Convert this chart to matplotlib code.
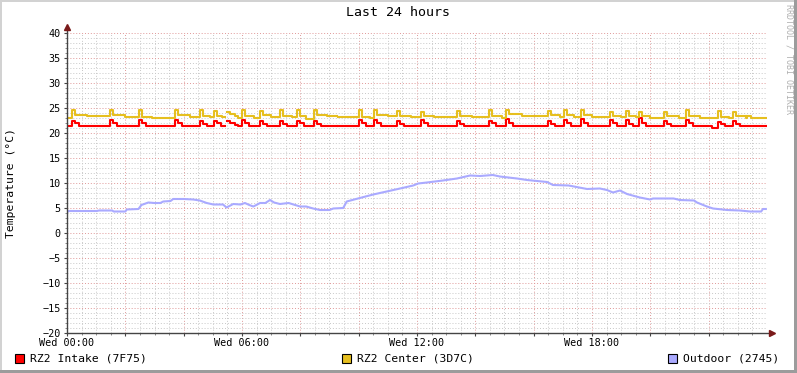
import matplotlib
matplotlib.use("Agg")
import matplotlib.pyplot as plt
from matplotlib.patches import Rectangle
import numpy as np

nan = float("nan")

# RZ2 Intake (7F75), hours since Wed 00:00 / deg C
intake_hours = [0.00,
                0.17, 0.27, 0.42, 1.47, 1.57, 1.72, 2.47, 2.57, 2.72,
                3.70, 3.80, 3.95, 4.56, 4.66, 4.81, 5.04, 5.14, 5.29,
                5.42, 5.48, 5.58, 5.75, 5.85,
                6.00, 6.10, 6.25, 6.62, 6.72, 6.87, 7.30, 7.40, 7.55,
                7.88, 7.98, 8.13, 8.47, 8.57, 8.72,
                9.25, 9.30,
                10.01, 10.11, 10.26, 10.52, 10.62, 10.77, 11.31, 11.41, 11.56,
                12.13, 12.23, 12.38, 13.37, 13.47, 13.62, 14.47, 14.57, 14.72,
                15.05, 15.15, 15.30, 16.49, 16.59, 16.74, 17.04, 17.14, 17.29,
                17.62, 17.72, 17.87, 18.62, 18.72, 18.87, 19.17, 19.27, 19.42,
                19.61, 19.71, 19.86, 20.47, 20.57, 20.72, 21.22, 21.32, 21.47,
                22.10,
                22.32, 22.42, 22.57, 22.83, 22.93, 23.08,
                24.00]
intake_temp = [21.4,
               22.5, 22.0, 21.5, 22.6, 22.0, 21.4, 22.6, 22.0, 21.4,
               22.6, 22.0, 21.4, 22.4, 21.9, 21.4, 22.5, 22.0, 21.4,
               nan, 22.4, 22.0, 21.6, 21.4,
               22.7, 22.0, 21.4, 22.4, 21.9, 21.4, 22.4, 21.9, 21.4,
               22.5, 22.0, 21.4, 22.4, 21.9, 21.4,
               nan, 21.4,
               22.7, 22.0, 21.4, 22.7, 22.0, 21.4, 22.5, 21.9, 21.4,
               22.6, 22.0, 21.4, 22.5, 21.9, 21.4, 22.5, 22.0, 21.4,
               22.9, 22.1, 21.5, 22.5, 21.9, 21.4, 22.6, 22.0, 21.4,
               22.9, 22.1, 21.5, 22.7, 22.0, 21.4, 22.6, 21.9, 21.4,
               23.0, 22.1, 21.5, 22.5, 21.9, 21.4, 22.7, 22.0, 21.4,
               21.0,
               22.3, 21.9, 21.4, 22.4, 21.9, 21.4,
               21.4]

# RZ2 Center (3D7C)
center_hours = [0.00,
                0.17, 0.27, 0.70, 1.47, 1.57, 2.00, 2.47, 2.57, 2.90,
                3.70, 3.80, 4.20, 4.56, 4.66, 4.90, 5.04, 5.14, 5.30,
                5.42, 5.48, 5.58, 5.75, 5.85,
                6.00, 6.10, 6.40, 6.62, 6.72, 7.00, 7.30, 7.40, 7.70,
                7.88, 7.98, 8.20, 8.47, 8.57, 8.90,
                9.25, 9.30,
                10.01, 10.11, 10.40, 10.52, 10.62, 11.00, 11.31, 11.41, 11.80,
                12.13, 12.23, 12.60, 13.37, 13.47, 13.90, 14.47, 14.57, 14.90,
                15.05, 15.15, 15.60, 16.49, 16.59, 16.90, 17.04, 17.14, 17.40,
                17.62, 17.72, 18.00, 18.62, 18.72, 19.00, 19.17, 19.27, 19.50,
                19.61, 19.71, 20.00, 20.47, 20.57, 21.00, 21.22, 21.32, 21.70,
                22.32, 22.42, 22.70, 22.83, 22.93, 23.30,
                23.28, 23.45,
                24.00]
center_temp = [23.1,
               24.6, 23.7, 23.4, 24.6, 23.6, 23.2, 24.6, 23.3, 23.0,
               24.6, 23.6, 23.3, 24.6, 23.5, 23.2, 24.5, 23.5, 23.2,
               nan, 24.3, 23.8, 23.4, 23.1,
               24.6, 23.5, 23.1, 24.5, 23.6, 23.2, 24.6, 23.5, 23.2,
               24.6, 23.5, 22.9, 24.7, 23.6, 23.4,
               nan, 23.3,
               24.6, 23.3, 23.1, 24.6, 23.6, 23.4, 24.5, 23.5, 23.3,
               24.3, 23.5, 23.3, 24.5, 23.5, 23.3, 24.7, 23.5, 23.1,
               24.6, 23.8, 23.4, 24.5, 23.6, 23.3, 24.6, 23.6, 23.3,
               24.6, 23.7, 23.3, 24.3, 23.5, 23.2, 24.5, 23.5, 23.2,
               24.3, 23.4, 23.0, 24.3, 23.5, 23.1, 24.6, 23.5, 23.1,
               24.5, 23.3, 23.0, 24.3, 23.4, 23.1,
               23.4, 23.1,
               23.1]

# Outdoor (2745)
outdoor_hours = [0.00, 0.05, 1.02, 1.10, 1.55, 1.60, 2.00, 2.05, 2.45, 2.55,
                 2.79, 3.00, 3.20, 3.30, 3.55, 3.64, 4.00, 4.33, 4.55, 4.79,
                 5.02, 5.35, 5.47, 5.70, 5.95, 6.10, 6.25, 6.39, 6.62, 6.80,
                 6.96, 7.10, 7.30, 7.60, 7.99, 8.20, 8.44, 8.67, 9.00, 9.13,
                 9.47, 9.59, 10.04, 10.50, 10.96, 11.42, 11.87, 12.04, 12.34, 12.89,
                 13.37, 13.82, 14.16, 14.60, 14.84, 15.43, 15.77, 16.46, 16.66, 17.20,
                 17.83, 18.27, 18.51, 18.72, 18.96, 19.20, 19.64, 19.99, 20.09, 20.80,
                 21.01, 21.50, 21.60, 21.94, 22.15, 22.63, 23.07, 23.42, 23.80, 23.86,
                 23.96]
outdoor_temp = [4.1, 4.4, 4.4, 4.5, 4.5, 4.3, 4.3, 4.7, 4.8, 5.6,
                6.1, 6.0, 6.0, 6.3, 6.4, 6.8, 6.8, 6.7, 6.5, 6.0,
                5.7, 5.7, 5.1, 5.8, 5.7, 6.0, 5.6, 5.3, 6.0, 6.0,
                6.6, 6.1, 5.8, 6.0, 5.3, 5.3, 4.9, 4.6, 4.6, 4.9,
                5.0, 6.3, 7.0, 7.7, 8.3, 8.9, 9.5, 9.9, 10.1, 10.5,
                10.9, 11.5, 11.4, 11.6, 11.3, 10.9, 10.6, 10.2, 9.6, 9.5,
                8.8, 8.9, 8.6, 8.1, 8.5, 7.8, 7.1, 6.7, 6.9, 6.9,
                6.6, 6.5, 6.1, 5.3, 4.9, 4.6, 4.5, 4.3, 4.3, 4.8,
                4.8]

series_names = ["RZ2 Intake (7F75)", "RZ2 Center (3D7C)", "Outdoor (2745)"]
series_colors = ["#ff0000", "#e6bf1f", "#aaaaff"]

tick_hours = [0, 6, 12, 18]
tick_labels = ["Wed 00:00", "Wed 06:00", "Wed 12:00", "Wed 18:00"]

W, H = 797, 373
mono = "DejaVu Sans Mono"
plt.rcParams["font.family"] = mono

fig = plt.figure(figsize=(W / 100, H / 100), dpi=100)
fig.patch.set_facecolor("white")


def fx(px):
    return px / W


def fy(py):
    return 1 - py / H


ax = fig.add_axes([fx(67), fy(333), 700 / W, 300 / H])
ax.set_xlim(0, 24)
ax.set_ylim(-20, 40)
for s in ax.spines.values():
    s.set_visible(False)

# grid
ax.set_xticks(np.arange(0, 23, 2))
ax.set_xticks(np.arange(0, 24, 0.5), minor=True)
ax.set_yticks(np.arange(-20, 41, 5))
ax.set_yticks(np.arange(-20, 41, 1), minor=True)
ax.grid(which="minor", color="#c8c8c8", linestyle=(0, (1, 2)), linewidth=0.7)
ax.grid(which="major", color="#e09898", linestyle=(0, (1, 2)), linewidth=0.7)
ax.set_axisbelow(True)

xlabels = []
for h in np.arange(0, 23, 2):
    xlabels.append(tick_labels[tick_hours.index(h)] if h in tick_hours else "")
ax.set_xticklabels(xlabels)
ax.tick_params(axis="x", which="major", length=2, width=0.8, color="#444444",
               labelsize=7.3, pad=1.5)
ax.tick_params(axis="x", which="minor", length=1.2, width=0.6, color="#777777")
ax.tick_params(axis="y", which="major", length=2, width=0.8, color="#444444",
               labelsize=7.3, pad=2.5)
ax.tick_params(axis="y", which="minor", length=1.2, width=0.6, color="#777777")

# data lines
ax.plot(intake_hours, intake_temp, color=series_colors[0], lw=1.5,
        drawstyle="steps-post", zorder=3)
ax.plot(center_hours, center_temp, color=series_colors[1], lw=1.5,
        drawstyle="steps-post", zorder=3)
ax.plot(outdoor_hours, outdoor_temp, color=series_colors[2], lw=1.5, zorder=3)

# axes with arrows
ax.plot([0, 0], [0, 1.015], transform=ax.transAxes, color="#444444", lw=1,
        clip_on=False, zorder=4)
ax.plot([0, 1.004], [0, 0], transform=ax.transAxes, color="#444444", lw=1,
        clip_on=False, zorder=4)
ax.plot([0], [1.02], transform=ax.transAxes, marker="^", color="#7a1a1a",
        markersize=4, clip_on=False, zorder=5)
ax.plot([1.0075], [0], transform=ax.transAxes, marker=">", color="#7a1a1a",
        markersize=4, clip_on=False, zorder=5)

# texts
fig.text(0.5, fy(13), "Last 24 hours", ha="center", va="center", fontsize=9.5)
fig.text(fx(11), fy(183), "Temperature (°C)", rotation=90, ha="center",
         va="center", fontsize=8.2)
fig.text(fx(789), fy(4), "RRDTOOL / TOBI OETIKER", rotation=270, ha="center",
         va="top", fontsize=6, color="#b0b0b0")

# legend
box_x = [15, 342, 668]
for bx, name, col in zip(box_x, series_names, series_colors):
    fig.add_artist(Rectangle((fx(bx), fy(363)), 9 / W, 9 / H, facecolor=col,
                             edgecolor="black", linewidth=0.8,
                             transform=fig.transFigure))
    fig.text(fx(bx + 15), fy(358.5), name, ha="left", va="center", fontsize=8.2)

# frame shading
fig.add_artist(Rectangle((0, fy(2)), 1, 2 / H, facecolor="#d2d2d2",
                         edgecolor="none", transform=fig.transFigure))
fig.add_artist(Rectangle((0, 0), 2 / W, 1, facecolor="#d2d2d2",
                         edgecolor="none", transform=fig.transFigure))
fig.add_artist(Rectangle((0, 0), 1, 3 / H, facecolor="#9c9c9c",
                         edgecolor="none", transform=fig.transFigure))
fig.add_artist(Rectangle((1 - 3 / W, 0), 3 / W, 1, facecolor="#9c9c9c",
                         edgecolor="none", transform=fig.transFigure))

fig.savefig("out.png", dpi=100)
